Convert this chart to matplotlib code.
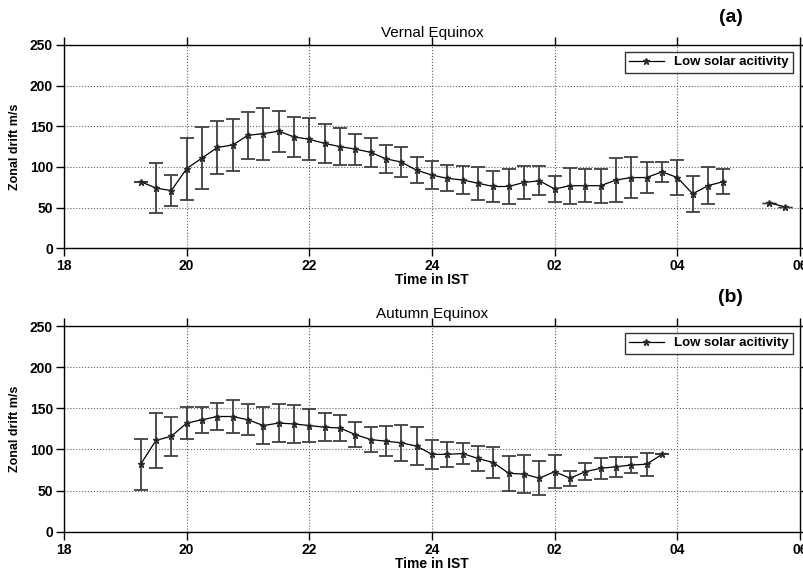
import numpy as np
import matplotlib
matplotlib.use('Agg')
import matplotlib.pyplot as plt

plt.rcParams['font.family'] = ['Liberation Sans Narrow', 'Liberation Sans', 'DejaVu Sans']

# time in hours after 18 IST (24 = midnight, 26 = 02 IST)
tick_pos = [18, 20, 22, 24, 26, 28, 30]
tick_lab = ['18', '20', '22', '24', '02', '04', '06']

# Vernal equinox (a)
t_a = [19.25, 19.5, 19.75, 20.0, 20.25, 20.5, 20.75, 21.0, 21.25, 21.5, 21.75,
       22.0, 22.25, 22.5, 22.75, 23.0, 23.25, 23.5, 23.75, 24.0, 24.25, 24.5, 24.75,
       25.0, 25.25, 25.5, 25.75, 26.0, 26.25, 26.5, 26.75, 27.0, 27.25, 27.5, 27.75,
       28.0, 28.25, 28.5, 28.75]
v_a = [82, 74, 71, 98, 111, 124, 127, 139, 141, 144, 137,
       134, 129, 125, 122, 118, 110, 106, 96, 90, 86, 84, 80,
       76, 76, 81, 83, 73, 77, 77, 77, 84, 87, 87, 94,
       87, 67, 77, 82]
e_a = [0, 31, 19, 38, 38, 33, 32, 29, 32, 25, 25,
       26, 24, 23, 19, 18, 17, 18, 16, 17, 16, 17, 20,
       19, 21, 20, 18, 16, 22, 20, 21, 27, 25, 19, 12,
       22, 22, 23, 15]
t_a2 = [29.5, 29.75]
v_a2 = [56, 51]

# Autumn equinox (b)
t_b = [19.25, 19.5, 19.75, 20.0, 20.25, 20.5, 20.75, 21.0, 21.25, 21.5, 21.75,
       22.0, 22.25, 22.5, 22.75, 23.0, 23.25, 23.5, 23.75, 24.0, 24.25, 24.5, 24.75,
       25.0, 25.25, 25.5, 25.75, 26.0, 26.25, 26.5, 26.75, 27.0, 27.25, 27.5, 27.75]
v_b = [82, 111, 116, 132, 136, 140, 140, 136, 129, 132, 131,
       129, 127, 126, 118, 112, 110, 108, 104, 94, 94, 95, 89,
       84, 71, 70, 65, 73, 65, 73, 77, 79, 81, 82, 94]
e_b = [31, 33, 24, 19, 16, 16, 20, 19, 23, 23, 23,
       20, 17, 16, 15, 15, 18, 22, 23, 18, 15, 13, 15,
       19, 21, 23, 21, 20, 9, 10, 13, 12, 10, 14, 0]

panels = [
    ('Vernal Equinox', '(a)', t_a, v_a, e_a, True),
    ('Autumn Equinox', '(b)', t_b, v_b, e_b, False),
]

fig = plt.figure(figsize=(8.04, 5.72), dpi=100)
rects = [[64/804, 1-248.3/572, 736/804, 203.3/572],
         [64/804, 1-531.7/572, 736/804, 205.7/572]]
tag_y = [1-18/572, 1-297/572]

for i, (title, tag, t, v, e, extra) in enumerate(panels):
    ax = fig.add_axes(rects[i])
    ax.errorbar(t, v, yerr=e, fmt='none', ecolor='#404040', elinewidth=1.3,
                capsize=5, capthick=1.3, zorder=2)
    ln, = ax.plot(t, v, color='k', lw=0.9, marker='*', ms=5, mfc='k', mec='#303030',
                  label='Low solar acitivity', zorder=3)
    if extra:
        ax.plot(t_a2, v_a2, color='k', lw=0.9, marker='*', ms=5, mfc='k', mec='#303030', zorder=3)
        ax.errorbar(t_a2, v_a2, yerr=[0, 0], fmt='none', ecolor='#404040', capsize=5, zorder=2)
    ax.set_xlim(18, 30)
    ax.set_ylim(0, 250)
    ax.set_xticks(tick_pos)
    ax.set_xticklabels(tick_lab)
    ax.set_yticks([0, 50, 100, 150, 200, 250])
    ax.grid(True, linestyle=':', color='#606060', lw=0.8)
    ax.tick_params(direction='out', length=6, width=1, top=True, right=True,
                   labelsize=10, pad=2)
    for lab in ax.get_xticklabels() + ax.get_yticklabels():
        lab.set_fontweight('bold')
    for sp in ax.spines.values():
        sp.set_linewidth(1.0)
    ax.set_title(title, fontsize=11, pad=6, family=['Liberation Sans', 'DejaVu Sans'])
    ax.set_xlabel('Time in IST', fontsize=10, fontweight='bold', labelpad=0)
    ax.set_ylabel('Zonal drift m/s', fontsize=9, fontweight='bold', labelpad=6,
                  family=['Liberation Sans', 'DejaVu Sans'])
    leg = ax.legend(loc='upper right', frameon=True, fancybox=False,
                    edgecolor='k', handlelength=2.6, borderaxespad=0.5,
                    borderpad=0.35, prop={'weight': 'bold', 'size': 9.5})
    leg.get_frame().set_linewidth(1.0)
    fig.text(0.909, tag_y[i], tag, fontsize=14, fontweight='bold',
             family=['Liberation Sans', 'DejaVu Sans'], ha='center', va='center')

fig.savefig('out.png', dpi=100)
